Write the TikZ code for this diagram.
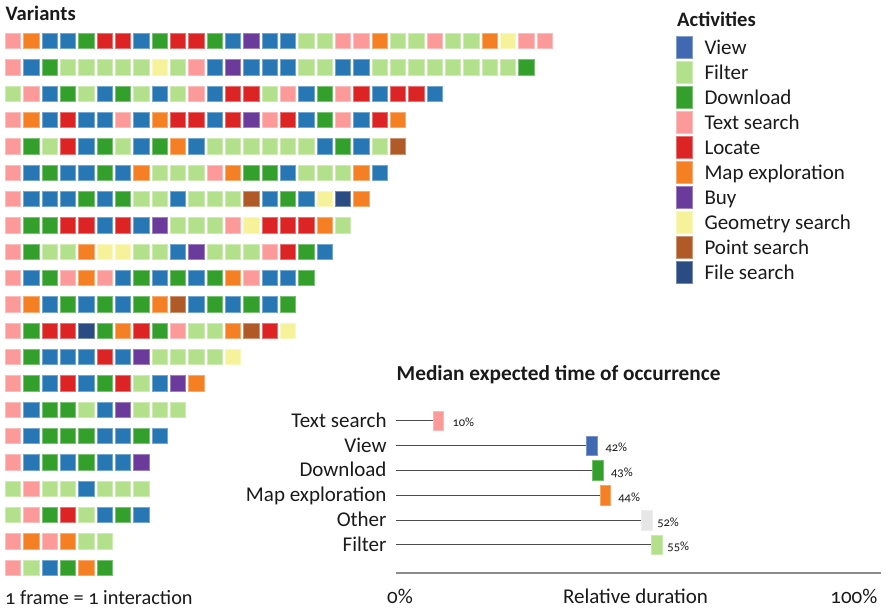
\documentclass[tikz,border=0pt]{standalone}
\usepackage{fontspec}
\setmainfont{Carlito}[Numbers=OldStyle]
% activity palette
\definecolor{cV}{HTML}{2777B4}
\definecolor{cVL}{HTML}{4169B1}
\definecolor{cF}{HTML}{B3E08B}
\definecolor{cD}{HTML}{33A02C}
\definecolor{cT}{HTML}{FB9A99}
\definecolor{cL}{HTML}{DC2424}
\definecolor{cM}{HTML}{F58024}
\definecolor{cB}{HTML}{6B3B9C}
\definecolor{cG}{HTML}{F6F29A}
\definecolor{cP}{HTML}{B05A28}
\definecolor{cS}{HTML}{2B4C82}
\definecolor{cO}{HTML}{E6E6E6}
\definecolor{ink}{HTML}{1A1A1A}
\begin{document}
\begin{tikzpicture}[x=1pt,y=-1pt,
  txt/.style={inner sep=0pt, text=ink},
  lbl/.style={txt, font=\fontsize{21}{24}\selectfont},
  ttl/.style={txt, font=\fontsize{20.6}{23}\selectfont\bfseries},
  pct/.style={txt, font=\fontsize{12.5}{14}\selectfont},
  cell/.style={fill=#1, draw=#1!65!white, line width=0.6pt},
  bar/.style={rectangle, inner sep=0pt, minimum width=10.6pt, minimum height=19.7pt, fill=#1, draw=#1!70!white, line width=0.5pt},
  conn/.style={draw=black!70, line width=0.8pt}]
\useasboundingbox[fill=white] (0,0) rectangle (886,611);

% ---- variants: one row of frames per variant ----
\node[ttl, anchor=base west] (vtitle) at (5.5,20) {Variants};
\foreach \row [count=\r from 0] in {
  {T,M,V,V,D,L,L,V,D,L,L,D,V,B,V,V,F,F,T,T,M,F,F,T,F,F,M,G,T,T},
  {T,V,D,F,F,F,F,F,G,F,T,V,B,V,V,V,F,F,V,V,F,F,F,F,F,F,F,F,D},
  {F,T,V,D,F,V,D,F,V,F,T,V,L,L,F,T,V,D,T,L,V,L,L,V},
  {T,M,V,L,V,V,T,V,M,L,L,V,L,B,T,L,V,D,T,V,L,M},
  {T,D,F,L,V,D,F,V,D,M,V,F,F,F,F,F,F,V,D,V,F,P},
  {T,V,D,V,V,D,V,M,F,F,F,T,M,D,D,V,F,F,F,M,V},
  {T,V,V,V,D,V,D,F,F,V,F,F,F,P,V,D,V,G,S,M},
  {T,D,D,L,L,V,L,V,B,F,F,F,T,G,L,L,L,M,F},
  {T,D,F,F,M,G,G,F,F,V,B,F,F,F,T,L,D,V},
  {T,V,D,T,M,T,V,D,V,D,V,D,M,T,V,V,D},
  {T,M,V,D,V,D,V,D,M,P,V,D,V,D,V,D},
  {T,D,L,L,S,D,M,L,D,T,F,F,M,P,L,G},
  {T,D,V,V,V,L,V,B,F,F,F,F,G},
  {T,D,V,L,V,D,L,F,V,B,M},
  {T,V,D,D,F,V,B,F,F,F},
  {T,V,D,D,D,V,V,D,V},
  {T,V,D,V,D,V,V,B},
  {F,T,F,F,V,F,F,F},
  {F,T,D,L,F,V,D,V},
  {T,M,T,M,F,F},
  {T,F,V,D,M,D}} {
  \foreach \c [count=\i from 0] in \row {
    \path[cell=c\c] ({5.3+18.33*\i},{33.3+26.33*\r}) rectangle ++(15.4,15.4);
  }
}
\node[lbl, anchor=base west, font=\fontsize{20.3}{23}\selectfont] (note) at (5,604) {1 frame = 1 interaction};

% ---- legend ----
\node[ttl, anchor=base west] (ltitle) at (677,26.7) {Activities};
\foreach \c/\t [count=\k from 0] in {cVL/View, cF/Filter, cD/Download, cT/Text search,
    cL/Locate, cM/Map exploration, cB/Buy, cG/Geometry search, cP/Point search, cS/File search} {
  \path[cell=\c] (676.5,{36.3+25*\k}) rectangle ++(15.8,22);
  \node[lbl, anchor=base west] (leg\k) at (704.3,{54.6+25*\k}) {\t};
}

% ---- median expected time of occurrence ----
\node[ttl, anchor=base west, font=\fontsize{21.3}{24}\selectfont\bfseries] (ctitle) at (396.5,380.7) {Median expected time of occurrence};
\foreach \t/\c/\bx/\p/\dx [count=\k from 0] in {Text search/cT/438.3/10/8.5, View/cVL/592/42/7.8,
    Download/cD/598/43/7.4, Map exploration/cM/605.3/44/7.3, Other/cO/647/52/4.5, Filter/cF/657/55/4.7} {
  \node[lbl, anchor=base east] (act\k) at (386.7,{427.2+24.8*\k}) {\t};
  \node[bar=\c] (bar\k) at (\bx,{420.8+24.8*\k}) {};
  \draw[conn] (396,{420.8+24.8*\k}) -- (bar\k.west);
  \node[pct, anchor=base west] (val\k) at ([xshift=\dx pt, yshift=-6pt]bar\k.east) {\p\%};
}

% ---- duration axis ----
\coordinate (ax0) at (396,573);
\coordinate (ax1) at (881,573);
\draw[draw=black!45, line width=1.4pt] (ax0) -- (ax1);
\node[lbl, anchor=base west] (a0) at (387,603.3) {0\%};
\node[lbl, anchor=base] (amid) at (635.5,603.3) {Relative duration};
\node[lbl, anchor=base east] (a1) at (877.5,603.3) {100\%};
\end{tikzpicture}
\end{document}
